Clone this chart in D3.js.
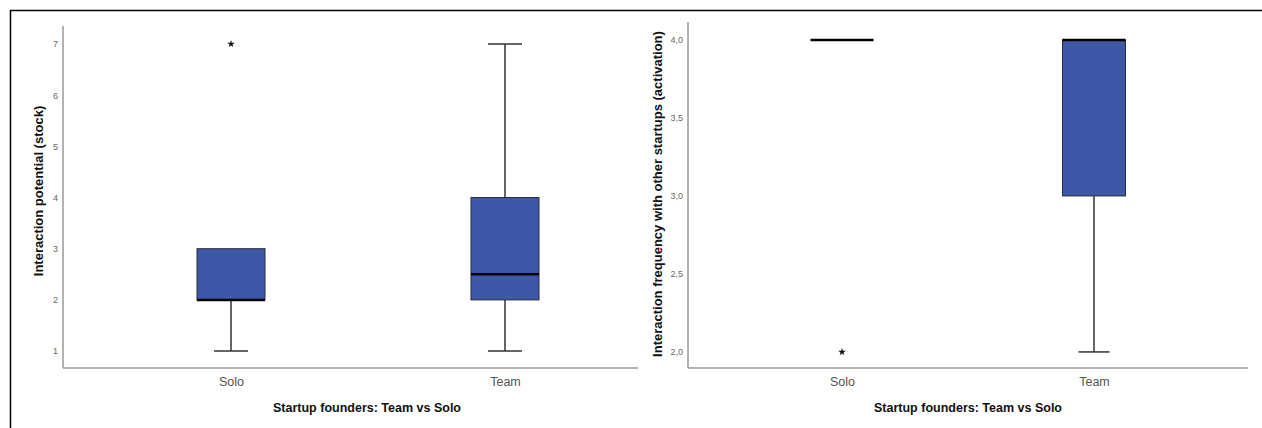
<!DOCTYPE html>
<html>
<head>
<meta charset="utf-8">
<script src="https://cdn.jsdelivr.net/npm/d3@7"></script>
<style>
  body { margin: 0; background: #fff; }
  svg { display: block; font-family: "Liberation Sans", Arial, sans-serif; }
</style>
</head>
<body>
<div id="chart-area"></div>
<script>
// groups on the x axis
const groups = ["Solo", "Team"];

// left panel: interaction potential (stock)
const stockMin    = [1, 1];
const stockQ1     = [2, 2];
const stockMedian = [2, 2.5];
const stockQ3     = [3, 4];
const stockMax    = [3, 7];
const stockOutliers = [[7], []];
const stockTicks = [1, 2, 3, 4, 5, 6, 7];

// right panel: interaction frequency (activation)
const actMin    = [4, 2];
const actQ1     = [4, 3];
const actMedian = [4, 4];
const actQ3     = [4, 4];
const actMax    = [4, 4];
const actOutliers = [[2], []];
const actTicks = [2, 2.5, 3, 3.5, 4];

const svg = d3.select("#chart-area").append("svg")
  .attr("width", 1262)
  .attr("height", 428);

// frame of the figure
svg.append("line").attr("x1", 10).attr("x2", 1262).attr("y1", 10.5).attr("y2", 10.5)
  .attr("stroke", "#000").attr("stroke-width", 1.5);
svg.append("line").attr("x1", 10.5).attr("x2", 10.5).attr("y1", 10).attr("y2", 428)
  .attr("stroke", "#000").attr("stroke-width", 1.5);

function panel(p) {
  const g = svg.append("g");
  const x = d3.scalePoint().domain(groups).range(p.centers);
  const y = d3.scaleLinear().domain(p.domain).range([368, p.top]);

  // axes
  g.append("line").attr("x1", p.left).attr("x2", p.left).attr("y1", p.top).attr("y2", 368)
    .attr("stroke", "#999").attr("stroke-width", 1.5);
  g.append("line").attr("x1", p.left).attr("x2", p.right).attr("y1", 368).attr("y2", 368)
    .attr("stroke", "#999").attr("stroke-width", 1.5);

  const ay = g.append("g").attr("transform", "translate(" + p.left + ",0)")
    .call(d3.axisLeft(y).tickValues(p.ticks).tickSize(0).tickPadding(5).tickFormat(p.fmt));
  ay.select(".domain").remove();
  ay.selectAll("text").attr("font-size", 9).attr("fill", "#666").attr("font-family", "Liberation Sans, Arial");

  const ax = g.append("g").attr("transform", "translate(0,368)")
    .call(d3.axisBottom(x).tickSize(0).tickPadding(9));
  ax.select(".domain").remove();
  ax.selectAll("text").attr("font-size", 12.5).attr("fill", "#555").attr("font-family", "Liberation Sans, Arial");

  const bw = p.boxW, cw = p.capW;
  groups.forEach(function (grp, i) {
    const cx = x(grp);
    // whiskers
    g.append("line").attr("x1", cx).attr("x2", cx).attr("y1", y(p.q3[i])).attr("y2", y(p.max[i]))
      .attr("stroke", "#333").attr("stroke-width", 1.5);
    g.append("line").attr("x1", cx).attr("x2", cx).attr("y1", y(p.min[i])).attr("y2", y(p.q1[i]))
      .attr("stroke", "#333").attr("stroke-width", 1.5);
    if (p.max[i] > p.q3[i]) {
      g.append("line").attr("x1", cx - cw / 2).attr("x2", cx + cw / 2)
        .attr("y1", y(p.max[i])).attr("y2", y(p.max[i]))
        .attr("stroke", "#333").attr("stroke-width", 1.5);
    }
    if (p.min[i] < p.q1[i]) {
      g.append("line").attr("x1", cx - cw / 2).attr("x2", cx + cw / 2)
        .attr("y1", y(p.min[i])).attr("y2", y(p.min[i]))
        .attr("stroke", "#333").attr("stroke-width", 1.5);
    }
    // box
    g.append("rect")
      .attr("x", cx - bw / 2).attr("width", bw)
      .attr("y", y(p.q3[i])).attr("height", y(p.q1[i]) - y(p.q3[i]))
      .attr("fill", "#3e58a8").attr("stroke", "#2a2a3a").attr("stroke-width", 1);
    // median
    g.append("line").attr("x1", cx - bw / 2).attr("x2", cx + bw / 2)
      .attr("y1", y(p.median[i])).attr("y2", y(p.median[i]))
      .attr("stroke", "#000").attr("stroke-width", 2.5);
    // outliers
    p.out[i].forEach(function (v) {
      g.append("path").attr("d", d3.symbol().type(d3.symbolStar).size(18)())
        .attr("transform", "translate(" + cx + "," + y(v) + ")")
        .attr("fill", "#111");
    });
  });

  // titles
  g.append("text").attr("x", p.xTitleX).attr("y", 412).attr("text-anchor", "middle")
    .attr("font-size", 12.5).attr("font-weight", "bold").attr("fill", "#111")
    .text("Startup founders: Team vs Solo");
  g.append("text")
    .attr("transform", "translate(" + p.yTitleX + "," + p.yTitleY + ") rotate(-90)")
    .attr("text-anchor", "middle")
    .attr("font-size", 13).attr("font-weight", "bold").attr("fill", "#111")
    .text(p.yTitle);
}

panel({
  left: 63, right: 638, top: 26, centers: [231, 505],
  domain: [0.67, 7.35], ticks: stockTicks, fmt: d3.format("d"),
  min: stockMin, q1: stockQ1, median: stockMedian, q3: stockQ3, max: stockMax, out: stockOutliers,
  boxW: 68, capW: 34,
  xTitleX: 367, yTitleX: 43, yTitleY: 191, yTitle: "Interaction potential (stock)"
});

panel({
  left: 688, right: 1248, top: 22, centers: [842, 1094],
  domain: [1.897, 4.115], ticks: actTicks, fmt: function (d) { return d3.format(".1f")(d).replace(".", ","); },
  min: actMin, q1: actQ1, median: actMedian, q3: actQ3, max: actMax, out: actOutliers,
  boxW: 63, capW: 31,
  xTitleX: 968, yTitleX: 662, yTitleY: 194, yTitle: "Interaction frequency with other startups (activation)"
});
</script>
</body>
</html>
